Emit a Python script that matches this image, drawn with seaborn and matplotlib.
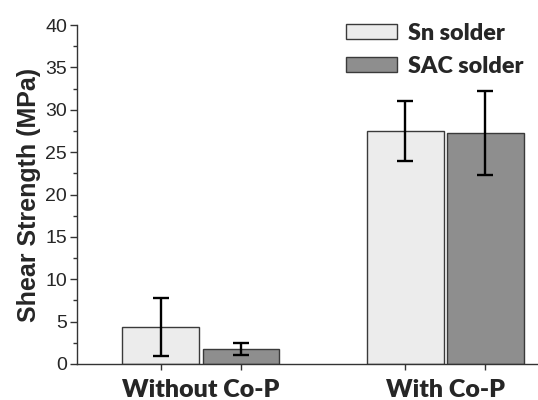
import matplotlib
matplotlib.use("Agg")
import matplotlib.pyplot as plt
from matplotlib.ticker import MultipleLocator
import pandas as pd
import seaborn as sns

# values
conditions = ["Without Co-P", "With Co-P"]
solders = ["Sn solder", "SAC solder"]
sn_mean = [4.4, 27.5]
sn_err = [3.4, 3.55]
sac_mean = [1.8, 27.3]
sac_err = [0.7, 4.95]
colors = ["#ececec", "#8e8e8e"]

df = pd.DataFrame({
    "Condition": conditions * 2,
    "Solder": [solders[0]] * 2 + [solders[1]] * 2,
    "Strength": sn_mean + sac_mean,
})

sns.set_style("ticks")
plt.rcParams["font.family"] = ["Liberation Sans", "DejaVu Sans"]
label_font = ["Lato", "DejaVu Sans"]

fig = plt.figure(figsize=(5.38, 4.0), dpi=100)
ax = fig.add_axes([0.143, 0.09, 0.857, 0.8475])

sns.barplot(data=df, x="Condition", y="Strength", hue="Solder", order=conditions,
            hue_order=solders, palette=colors, errorbar=None, width=0.656, gap=0.04,
            edgecolor="#3a3a3a", linewidth=1.0, ax=ax)

# error bars at the bar centres that seaborn placed
bars = [p for p in ax.patches if p.get_height() > 0]
bars = sorted(bars, key=lambda p: p.get_x())
means = [sn_mean[0], sac_mean[0], sn_mean[1], sac_mean[1]]
errs = [sn_err[0], sac_err[0], sn_err[1], sac_err[1]]
xs = []
for p, m, e in zip(bars, means, errs):
    xc = p.get_x() + p.get_width() / 2
    xs.append(xc)
    ax.errorbar(xc, m, yerr=e, color="black", lw=1.7, capsize=6, capthick=1.7, zorder=5)

ax.set_ylim(0, 40)
ax.set_xlim(-0.508, 1.38)
ax.yaxis.set_major_locator(MultipleLocator(5))
ax.yaxis.set_minor_locator(MultipleLocator(2.5))
ax.tick_params(axis="y", which="major", length=5, width=1, color="#333333", labelsize=14, pad=2)
ax.tick_params(axis="y", which="minor", length=3, width=1, color="#333333")

ax.set_xticks([])
ax.set_xticks(xs, minor=True)
ax.tick_params(axis="x", which="minor", length=4, width=1, color="#333333")
for xc, lab in zip([0, 1], conditions):
    ax.text(xc, -0.045, lab, transform=ax.get_xaxis_transform(), ha="center", va="top",
            fontsize=18, fontweight="heavy", family=label_font)

ax.set_xlabel("")
ax.set_ylabel("Shear Strength (MPa)", fontsize=18, fontweight="bold", labelpad=3)

sns.despine(ax=ax)
for s in ["left", "bottom"]:
    ax.spines[s].set_color("#333333")
    ax.spines[s].set_linewidth(1.0)

leg = ax.legend(loc="upper left", bbox_to_anchor=(346 / 538, 1 - 23 / 400),
                bbox_transform=fig.transFigure, frameon=False, borderpad=0, borderaxespad=0,
                handlelength=2.2, handleheight=0.6, labelspacing=0.5, handletextpad=0.45,
                prop={"family": label_font, "weight": "heavy", "size": 16.8})

fig.savefig("out.png", dpi=100)
